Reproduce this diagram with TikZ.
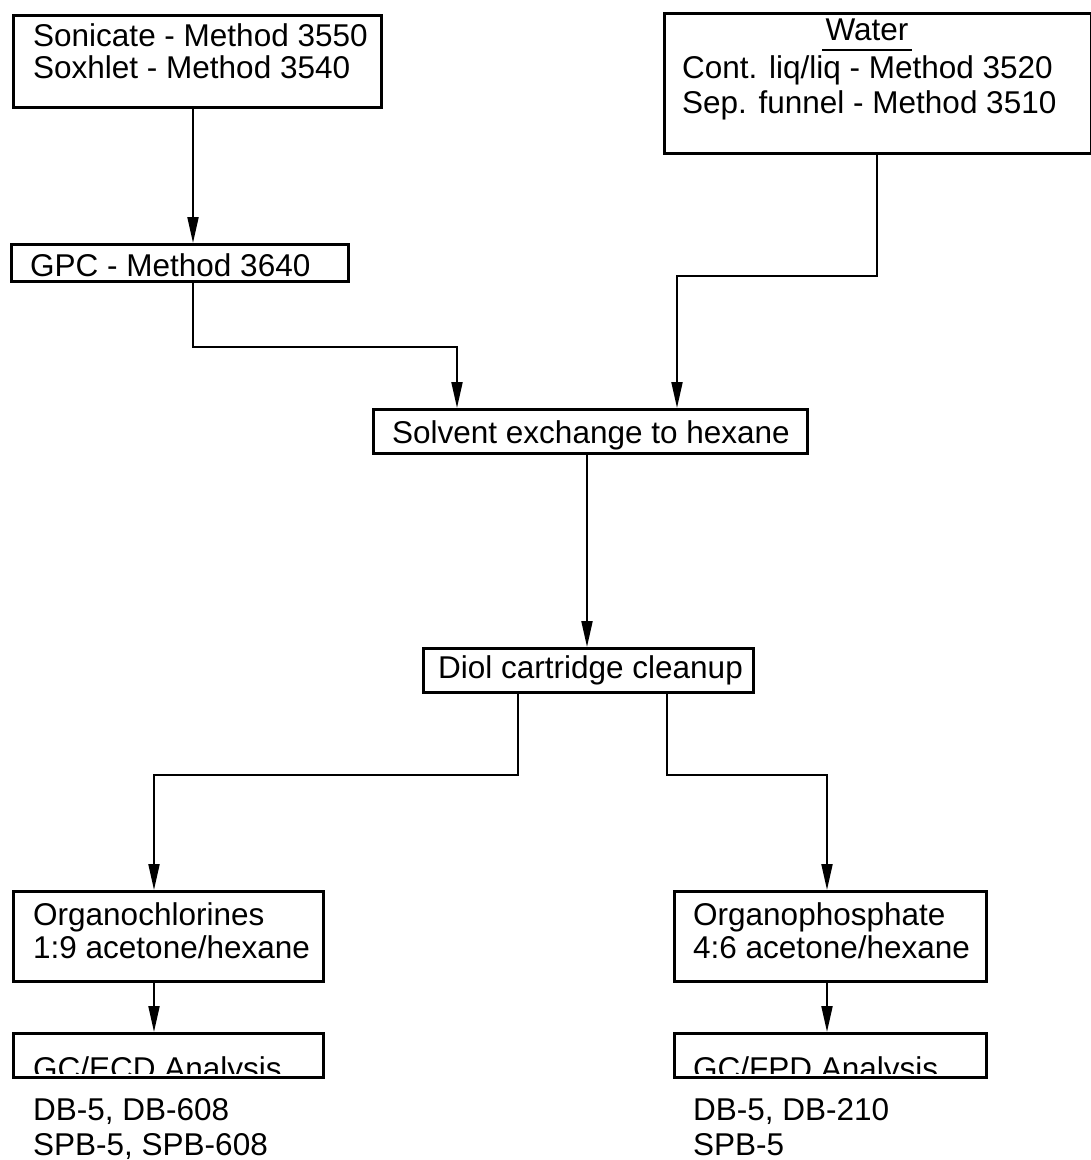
\documentclass[tikz,border=0pt]{standalone}
\usepackage{fontspec}
\setmainfont{Liberation Sans}
\usetikzlibrary{arrows.meta}
\begin{document}
\begin{tikzpicture}[x=1pt,y=-1pt,
  box/.style={draw, line width=2.8pt, inner sep=0pt, anchor=north west},
  txt/.style={inner sep=0pt, anchor=base west, font=\fontsize{31.5}{38}\selectfont},
  conn/.style={line width=2pt},
  arr/.style={conn, -{Triangle[length=26pt,width=11pt]}}]
\useasboundingbox (0,0) rectangle (1091,1160);
% column coordinates
\coordinate (c193) at (193,0);
\coordinate (c457) at (457,0);
\coordinate (c877) at (877,0);
\coordinate (c677) at (677,0);
\coordinate (c587) at (587,0);
\coordinate (c518) at (518,0);
\coordinate (c667) at (667,0);
\coordinate (c154) at (154,0);
\coordinate (c827) at (827,0);
% boxes
\node[box, minimum width=368pt, minimum height=92pt] (b1) at (12,14) {};
\node[txt] (t1a) at (33,46) {Sonicate - Method 3550};
\node[txt] (t1b) at (33,78) {Soxhlet - Method 3540};

\node[box, minimum width=427pt, minimum height=140pt] (b2) at (663,12) {};
\node[txt, anchor=base] (w) at (867,40) {Water};
\draw[line width=2.6pt] ([xshift=-3pt,yshift=-10pt]w.base west) -- ([xshift=3pt,yshift=-10pt]w.base east);
\node[txt] (t2a) at (682,78) {Cont. liq/liq - Method 3520};
\node[txt] (t2b) at (682,113) {Sep. funnel - Method 3510};

\node[box, minimum width=337pt, minimum height=37pt] (gpc) at (10,243) {};
\node[txt] (t3) at (30,276) {GPC - Method 3640};

\node[box, minimum width=434pt, minimum height=44pt] (sol) at (372,408) {};
\node[txt] (t4) at (392,443) {Solvent exchange to hexane};

\node[box, minimum width=330pt, minimum height=44pt] (diol) at (422,647) {};
\node[txt] (t5) at (438,678) {Diol cartridge cleanup};

\node[box, minimum width=310pt, minimum height=90pt] (oc) at (12,890) {};
\node[txt] (t6a) at (33,925) {Organochlorines};
\node[txt] (t6b) at (33,958) {1:9 acetone/hexane};

\node[box, minimum width=312pt, minimum height=90pt] (op) at (673,890) {};
\node[txt] (t7a) at (693,925) {Organophosphate};
\node[txt] (t7b) at (693,958) {4:6 acetone/hexane};

\begin{scope}
  \clip (12,1032) rectangle (322,1073);
  \node[txt] (t8) at (33,1079) {GC/ECD Analysis};
\end{scope}
\node[box, minimum width=310pt, minimum height=44pt] (ecd) at (12,1032) {};

\begin{scope}
  \clip (673,1032) rectangle (985,1073);
  \node[txt] (t9) at (693,1079) {GC/FPD Analysis};
\end{scope}
\node[box, minimum width=312pt, minimum height=44pt] (fpd) at (673,1032) {};

\node[txt] (t10a) at (33,1120) {DB-5, DB-608};
\node[txt] (t10b) at (33,1155) {SPB-5, SPB-608};
\node[txt] (t11a) at (693,1120) {DB-5, DB-210};
\node[txt] (t11b) at (693,1155) {SPB-5};

% connectors
\draw[arr] (c193 |- b1.south) -- (c193 |- gpc.north);
\draw[arr] (c193 |- gpc.south) -- (193,347) -| (c457 |- sol.north);
\draw[arr] (c877 |- b2.south) -- (877,276) -| (c677 |- sol.north);
\draw[arr] (c587 |- sol.south) -- (c587 |- diol.north);
\draw[arr] (c518 |- diol.south) -- (518,775) -| (c154 |- oc.north);
\draw[arr] (c667 |- diol.south) -- (667,775) -| (c827 |- op.north);
\draw[arr] (c154 |- oc.south) -- (c154 |- ecd.north);
\draw[arr] (c827 |- op.south) -- (c827 |- fpd.north);
\end{tikzpicture}
\end{document}
